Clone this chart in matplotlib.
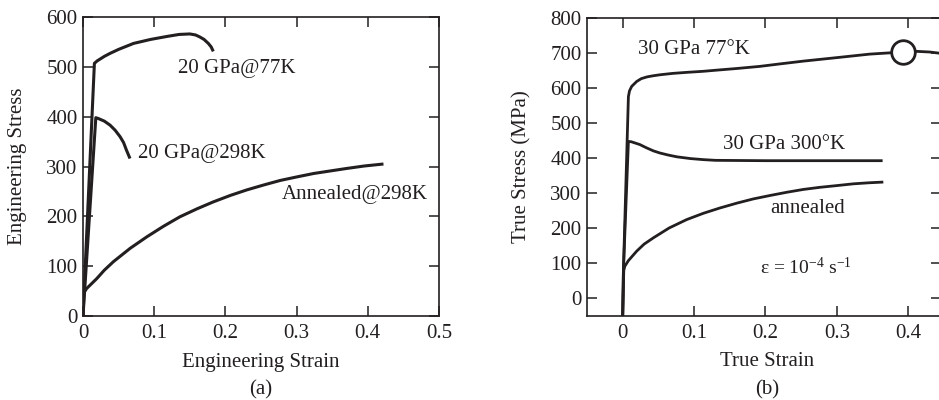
import matplotlib
matplotlib.use("Agg")
import matplotlib.pyplot as plt

plt.rcParams['font.family'] = ['Liberation Serif', 'DejaVu Serif']
plt.rcParams['mathtext.fontset'] = 'custom'
plt.rcParams['mathtext.rm'] = 'Liberation Serif'
plt.rcParams['mathtext.it'] = 'Liberation Serif:italic'

INK = '#231f20'

# ---- Panel (a): engineering stress-strain ----
a77_x = [0, 0.016, 0.02, 0.03, 0.038, 0.05, 0.071, 0.095, 0.118, 0.135, 0.15, 0.158, 0.164, 0.17, 0.176, 0.18, 0.183]
a77_y = [0, 507, 512, 521, 527, 535, 547, 555, 561, 565, 566, 564, 560, 555, 547, 540, 531]
a298_x = [0, 0.018, 0.022, 0.03, 0.038, 0.045, 0.052, 0.057, 0.061, 0.066]
a298_y = [0, 398, 396, 391, 383, 373, 360, 348, 333, 316]
aann_x = [0, 0.0005, 0.005, 0.01, 0.0193, 0.03, 0.0427, 0.0664, 0.0898, 0.113, 0.136, 0.16, 0.183, 0.207, 0.23, 0.254, 0.277, 0.3, 0.324, 0.347, 0.37, 0.395, 0.422]
aann_y = [0, 45, 55, 62, 75, 92, 109, 136, 159, 180, 199, 215, 229, 242, 253, 263, 272, 279, 286, 291, 296, 301, 305]
a_xticks = [0, 0.1, 0.2, 0.3, 0.4, 0.5]
a_xticklabels = ['0', '0.1', '0.2', '0.3', '0.4', '0.5']
a_yticks = [0, 100, 200, 300, 400, 500, 600]

# ---- Panel (b): true stress-strain ----
b77_x = [0, 0.001, 0.008, 0.0095, 0.0126, 0.0196, 0.026, 0.034, 0.042, 0.052, 0.07, 0.09, 0.113, 0.136, 0.16, 0.192, 0.22, 0.253, 0.3, 0.346, 0.393, 0.41, 0.43, 0.446]
b77_y = [-50, 80, 576, 592, 605, 619, 627, 632, 635, 638, 642, 645, 648, 652, 656, 662, 669, 677, 687, 697, 703, 705, 703, 699]
b300_x = [0, 0.001, 0.008, 0.012, 0.018, 0.024, 0.033, 0.043, 0.052, 0.064, 0.076, 0.095, 0.113, 0.13, 0.2, 0.3, 0.364]
b300_y = [-50, 80, 448, 447, 443, 439, 430, 421, 415, 409, 404, 399, 396, 394, 393, 393, 393]
bann_x = [0, 0.0015, 0.003, 0.008, 0.0196, 0.03, 0.043, 0.065, 0.0896, 0.113, 0.136, 0.16, 0.183, 0.207, 0.23, 0.253, 0.276, 0.3, 0.323, 0.345, 0.365]
bann_y = [-50, 80, 92, 108, 135, 155, 173, 201, 225, 243, 258, 272, 284, 294, 303, 311, 317, 322, 327, 330, 332]
b_marker_x = [0.393]
b_marker_y = [703]
b_xticks = [0, 0.1, 0.2, 0.3, 0.4]
b_xticklabels = ['0', '0.1', '0.2', '0.3', '0.4']
b_yticks = [0, 100, 200, 300, 400, 500, 600, 700, 800]

W, H = 939, 400
fig = plt.figure(figsize=(W / 100, H / 100), dpi=100)

def px_axes(l, t, r, b):
    return fig.add_axes([l / W, 1 - b / H, (r - l) / W, (b - t) / H])

axa = px_axes(83, 17, 439, 316)
axb = px_axes(587, 18, 941, 316)

FS = 15
for ax in (axa, axb):
    for s in ax.spines.values():
        s.set_linewidth(1.2)
        s.set_color(INK)
    ax.tick_params(direction='in', length=7, width=1.1, colors=INK,
                   labelsize=FS, top=True, right=True, pad=6)
    ax.tick_params(axis='y', pad=4)

lw = 2.2
axa.plot(a77_x, a77_y, color=INK, lw=lw, solid_capstyle='butt')
axa.plot(a298_x, a298_y, color=INK, lw=lw, solid_capstyle='butt')
axa.plot(aann_x, aann_y, color=INK, lw=lw, solid_capstyle='butt')
axa.set_xlim(0, 0.5)
axa.set_ylim(0, 600)
axa.set_xticks(a_xticks)
axa.set_xticklabels(a_xticklabels)
axa.set_yticks(a_yticks)
axa.set_xlabel('Engineering Strain', fontsize=FS, color=INK)
axa.set_ylabel('Engineering Stress', fontsize=FS, color=INK)
axa.xaxis.label.set_va('center')
axa.yaxis.label.set_va('center')
axa.xaxis.set_label_coords(0.5, (316 - 362) / 299)
axa.yaxis.set_label_coords((18 - 83) / 356, 0.5)
axa.text(0.133, 496, '20 GPa@77K', fontsize=FS, color=INK, ha='left', va='center')
axa.text(0.077, 327, '20 GPa@298K', fontsize=FS, color=INK, ha='left', va='center')
axa.text(0.2795, 243, 'Annealed@298K', fontsize=FS, color=INK, ha='left', va='center')

lwb = 2.0
axb.plot(b77_x, b77_y, color=INK, lw=lwb, solid_capstyle='butt')
axb.plot(b300_x, b300_y, color=INK, lw=lwb, solid_capstyle='butt')
axb.plot(bann_x, bann_y, color=INK, lw=lwb, solid_capstyle='butt')
axb.plot(b_marker_x, b_marker_y, ls='none', marker='o', ms=17, mfc='white',
         mec=INK, mew=2.0, zorder=5, clip_on=False)
axb.set_xlim(-0.05, 0.4458)
axb.set_ylim(-50, 800)
axb.set_xticks(b_xticks)
axb.set_xticklabels(b_xticklabels)
axb.set_yticks(b_yticks)
axb.set_xlabel('True Strain', fontsize=FS, color=INK)
axb.set_ylabel('True Stress (MPa)', fontsize=FS, color=INK)
axb.xaxis.label.set_va('center')
axb.yaxis.label.set_va('center')
axb.xaxis.set_label_coords((766.7 - 587) / 354, (316 - 362) / 298)
axb.yaxis.set_label_coords((521.7 - 587) / 354, 0.5)
axb.text(0.021, 709, '30 GPa 77°K', fontsize=FS, color=INK, ha='left', va='center')
axb.text(0.1405, 439, '30 GPa 300°K', fontsize=FS, color=INK, ha='left', va='center')
axb.text(0.206, 256, 'annealed', fontsize=FS, color=INK, ha='left', va='center')
axb.text(0.192, 88, 'ε = 10$^{-4}$ s$^{-1}$', fontsize=14, color=INK, ha='left', va='center')

fig.text(261 / W, 1 - 390 / H, '(a)', fontsize=FS, color=INK, ha='center', va='center')
fig.text(766.7 / W, 1 - 390 / H, '(b)', fontsize=FS, color=INK, ha='center', va='center')

fig.savefig('out.png', dpi=100, facecolor='white')
